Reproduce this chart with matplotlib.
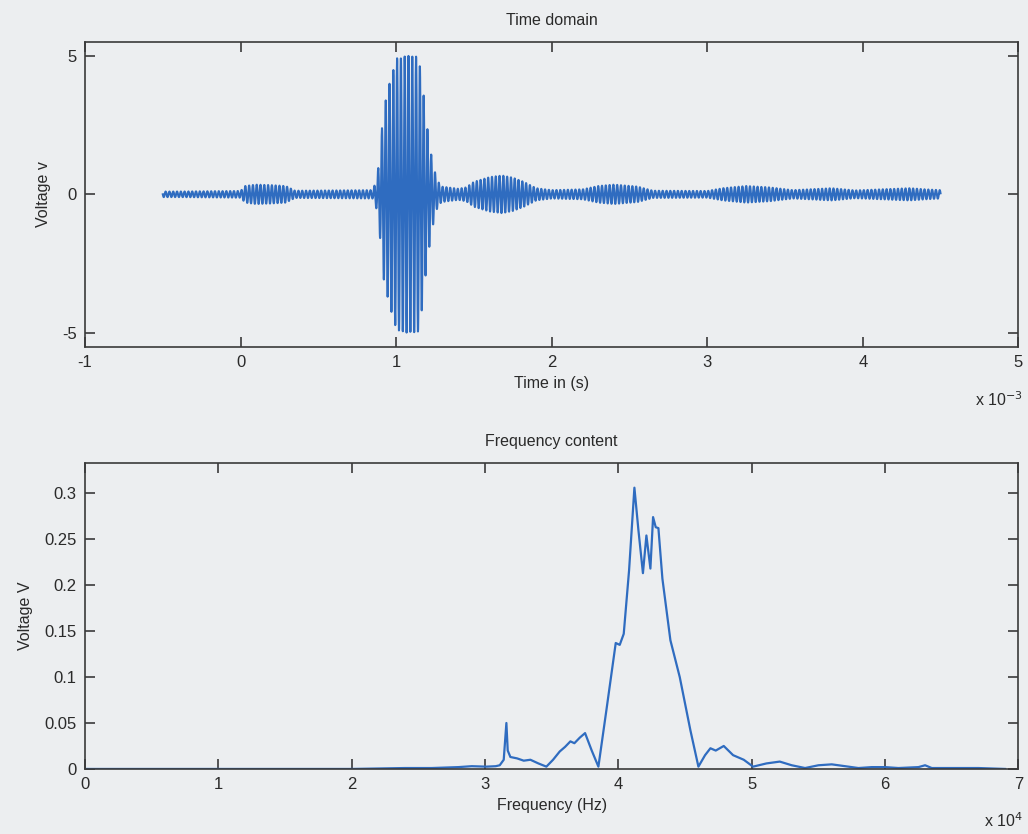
import numpy as np
import matplotlib
matplotlib.use("Agg")
import matplotlib.pyplot as plt

# ---------------------------------------------------------------------------
# Data
# ---------------------------------------------------------------------------
# time-domain envelope knots: time in ms, amplitude in V
ENV_T = [-0.50, -0.40, 0.00, 0.03, 0.10, 0.20, 0.29, 0.35, 0.60, 0.85, 0.878,
         0.897, 0.918, 0.961, 1.004, 1.08, 1.143, 1.165, 1.197, 1.229, 1.26,
         1.29, 1.40, 1.45, 1.50, 1.60, 1.68, 1.75, 1.82, 1.90, 2.00, 2.20,
         2.30, 2.40, 2.55, 2.65, 3.00, 3.10, 3.25, 3.40, 3.55, 3.80, 3.95,
         4.30, 4.40, 4.50]
ENV_A = [0.10, 0.10, 0.12, 0.30, 0.35, 0.33, 0.30, 0.13, 0.14, 0.15, 0.60,
         1.60, 3.00, 4.10, 4.90, 5.00, 4.95, 4.20, 2.50, 1.30, 0.55,
         0.28, 0.20, 0.25, 0.45, 0.62, 0.68, 0.60, 0.45, 0.22, 0.15, 0.18,
         0.30, 0.35, 0.28, 0.13, 0.12, 0.22, 0.30, 0.25, 0.15, 0.22, 0.14,
         0.22, 0.18, 0.15]
CARRIER_KHZ = 41.0     # dominant frequency
FS_KHZ = 1000.0        # drawing resolution of the waveform

# spectrum: frequency in units of 1e4 Hz, magnitude in V
FREQ = [0.00, 0.50, 1.00, 1.50, 2.00, 2.40, 2.60, 2.80, 2.90, 3.01, 3.08, 3.11,
        3.14, 3.16, 3.17, 3.19, 3.24, 3.29, 3.34, 3.40, 3.46, 3.51, 3.56, 3.60,
        3.64, 3.67, 3.71, 3.75, 3.80, 3.85, 3.91, 3.98, 4.01, 4.04, 4.08,
        4.12, 4.15, 4.184, 4.21, 4.24, 4.26, 4.28, 4.30, 4.33, 4.39, 4.46,
        4.54, 4.60, 4.65, 4.69, 4.73, 4.79, 4.86, 4.94, 5.01, 5.11, 5.21,
        5.30, 5.40, 5.50, 5.60, 5.70, 5.80, 5.90, 6.00, 6.10, 6.25, 6.30,
        6.35, 6.50, 6.70, 6.90]
MAG = [0.000, 0.000, 0.000, 0.000, 0.000, 0.001, 0.001, 0.002, 0.003, 0.0025,
       0.003, 0.004, 0.010, 0.050, 0.020, 0.013, 0.0115, 0.009, 0.010, 0.006,
       0.0025, 0.010, 0.019, 0.024, 0.030, 0.028, 0.034, 0.039, 0.020, 0.0025,
       0.064, 0.137, 0.135, 0.147, 0.216, 0.306, 0.260, 0.213, 0.254, 0.218,
       0.274, 0.263, 0.262, 0.207, 0.140, 0.100, 0.042, 0.0025, 0.015, 0.0225,
       0.020, 0.025, 0.015, 0.010, 0.0025, 0.006, 0.008, 0.004, 0.001, 0.004,
       0.005, 0.003, 0.001, 0.002, 0.002, 0.001, 0.002, 0.004, 0.001, 0.001,
       0.001, 0.000]

BG = "#eceef0"
LINE = "#2f6cc0"
INK = "#2a2a2a"


def style_axes(ax):
    ax.set_facecolor(BG)
    for s in ax.spines.values():
        s.set_color("#3a3a3a")
        s.set_linewidth(1.2)
    ax.tick_params(direction="in", length=7, width=1.1, top=True, right=True,
                   labelsize=12, colors=INK, pad=6)


plt.rcParams["font.family"] = ["Liberation Sans", "DejaVu Sans"]
plt.rcParams["axes.unicode_minus"] = False

fig = plt.figure(figsize=(10.28, 8.34), dpi=100, facecolor=BG)

# --- time domain ---
ax1 = fig.add_axes([0.0827, 0.584, 0.908, 0.366])
t_ms = np.arange(-0.5, 4.5, 1.0 / FS_KHZ)
env = np.interp(t_ms, ENV_T, ENV_A)
v = env * np.sin(2 * np.pi * CARRIER_KHZ * t_ms)
ax1.plot(t_ms, v, color=LINE, linewidth=1.5)
ax1.set_xlim(-1, 5)
ax1.set_ylim(-5.5, 5.5)
ax1.set_xticks(range(-1, 6))
ax1.set_yticks([-5, 0, 5])
style_axes(ax1)
ax1.set_title("Time domain", fontsize=11.5, color=INK, pad=12)
ax1.set_xlabel("Time in (s)", fontsize=11.5, color=INK, labelpad=4)
ax1.set_ylabel("Voltage v", fontsize=11.5, color=INK, labelpad=8)
fig.text(0.995, 0.513, r"x 10$^{-3}$", fontsize=11.5, color=INK, ha="right")

# --- frequency content ---
ax2 = fig.add_axes([0.0827, 0.078, 0.908, 0.367])
ax2.plot(FREQ, MAG, color=LINE, linewidth=1.6)
ax2.set_xlim(0, 7)
ax2.set_ylim(0, 0.333)
ax2.set_xticks(range(0, 8))
ax2.set_yticks([0, 0.05, 0.1, 0.15, 0.2, 0.25, 0.3])
ax2.set_yticklabels(["0", "0.05", "0.1", "0.15", "0.2", "0.25", "0.3"])
style_axes(ax2)
ax2.set_title("Frequency content", fontsize=11.5, color=INK, pad=12)
ax2.set_xlabel("Frequency (Hz)", fontsize=11.5, color=INK, labelpad=4)
ax2.set_ylabel("Voltage V", fontsize=11.5, color=INK, labelpad=8)
fig.text(0.995, 0.008, r"x 10$^{4}$", fontsize=11.5, color=INK, ha="right")

fig.savefig("out.png", dpi=100, facecolor=BG)
